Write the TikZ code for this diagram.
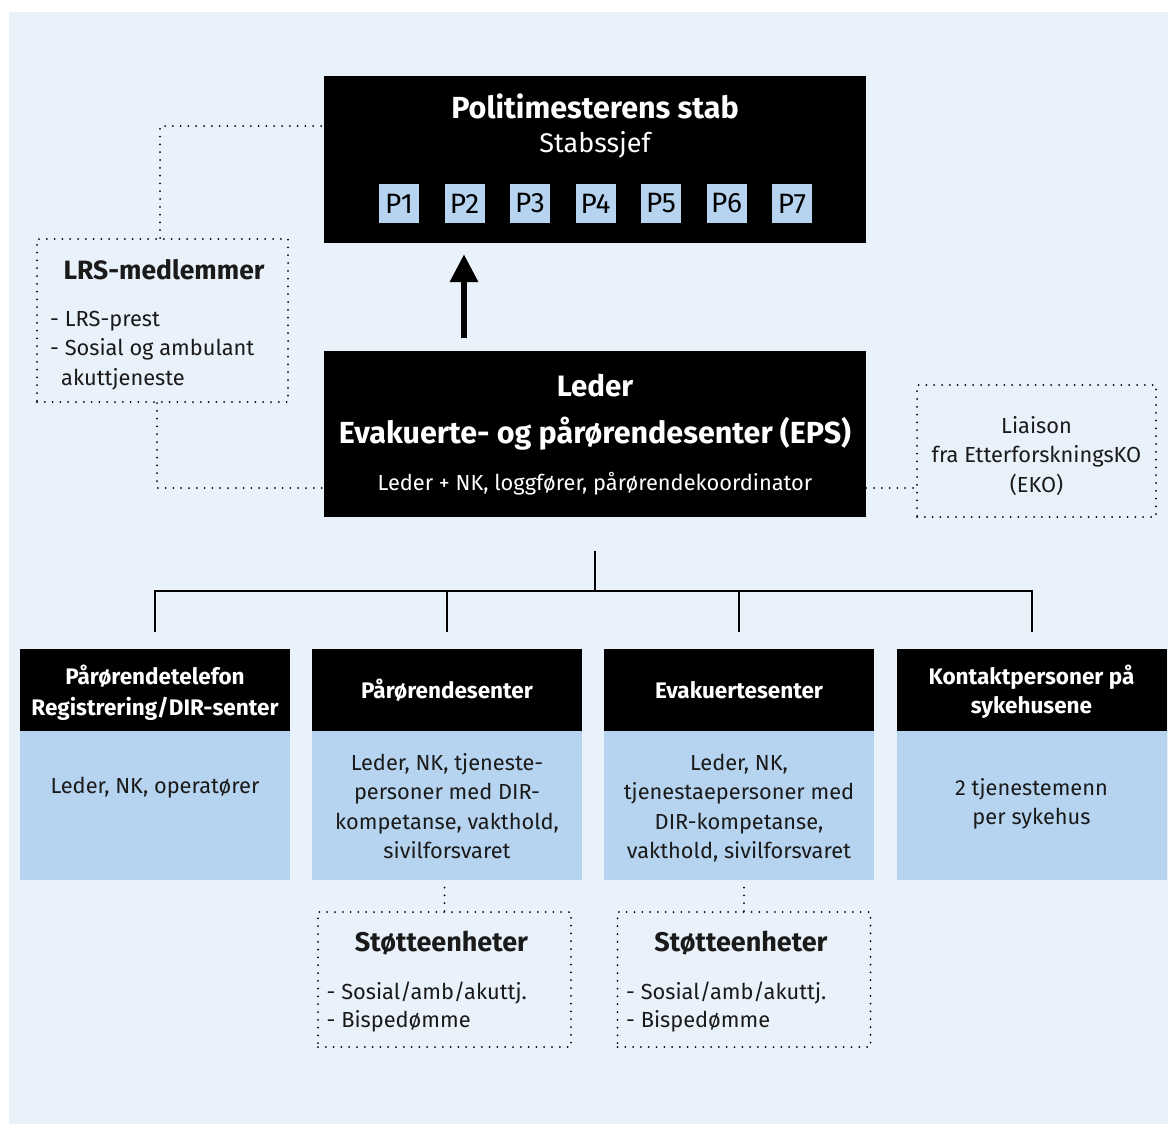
\documentclass[tikz,border=0pt]{standalone}
\usepackage{fontspec}
\setmainfont{Fira Sans}
\usetikzlibrary{arrows.meta}
\definecolor{bgblue}{HTML}{E9F1FA}
\definecolor{boxblue}{HTML}{B6D4F0}
\definecolor{ink}{HTML}{1A1A1A}
\newcommand\fsz[1]{\fontsize{#1}{#1}\selectfont}
\begin{document}
\begin{tikzpicture}[x=1pt,y=-1pt,>=latex,
 blackbox/.style={fill=black,inner sep=0pt},
 bluebox/.style={fill=boxblue,inner sep=0pt},
 dotbox/.style={draw,line width=2pt,dash pattern=on 0pt off 7.8pt,line cap=round,inner sep=0pt},
 dotline/.style={line width=2pt,dash pattern=on 0pt off 7.8pt,line cap=round},
 treeline/.style={line width=2pt},
 txt/.style={inner sep=0pt,anchor=base,text=ink,font=\fsz{21.8}},
 wtxt/.style={inner sep=0pt,anchor=base,text=white},
 ltxt/.style={inner sep=0pt,anchor=base west,text=ink,font=\fsz{21.8}}]
\useasboundingbox (0,0) rectangle (1168,1124);
\fill[bgblue] (9,12) rectangle (1168,1124);

% stab
\node[blackbox,minimum width=542pt,minimum height=167pt] (stab) at (595,159.5) {};
\node[wtxt,font=\bfseries\fsz{30.5}] (stabtitle) at (595,118) {Politimesterens stab};
\node[wtxt,font=\fsz{27}] (stabsjef) at (595,152.5) {Stabssjef};
\foreach \i in {1,...,7}
  \node[bluebox,text=black,minimum width=40pt,minimum height=39pt,font=\fsz{28}] (p\i) at (333.5+65.5*\i,203.5) {P\i};

% EPS
\node[blackbox,minimum width=542pt,minimum height=166pt] (leder) at (595,434) {};
\node[wtxt,font=\bfseries\fsz{29.5}] (ledertitle) at (595,396) {Leder};
\node[wtxt,font=\bfseries\fsz{30.5}] (eps) at (595,443) {Evakuerte- og pårørendesenter (EPS)};
\node[wtxt,font=\fsz{21.8}] (ledernk) at (595,490) {Leder + NK, loggfører, pårørendekoordinator};
\draw[-{Triangle[width=27pt,length=28pt]},line width=6.5pt] ([xshift=-131pt,yshift=13pt]leder.north) -- ([xshift=-131pt,yshift=-11pt]stab.south);

% LRS
\node[dotbox,minimum width=251pt,minimum height=163pt] (lrs) at (162.5,320.5) {};
\node[txt,font=\bfseries\fsz{26.5}] (lrstitle) at (164,279) {LRS-medlemmer};
\node[ltxt] (lrs1) at (50,326) {- LRS-prest};
\node[ltxt] (lrs2) at (50,355.5) {- Sosial og ambulant};
\node[ltxt] (lrs3) at (61,385) {akuttjeneste};
\draw[dotline] ([xshift=-2.5pt]lrs.north) |- ([yshift=33.5pt]stab.west);
\draw[dotline] ([xshift=-5.5pt]lrs.south) |- ([yshift=-54pt]leder.west);

% EKO
\node[dotbox,minimum width=239pt,minimum height=132pt] (eko) at (1036.5,451) {};
\foreach \t [count=\k] in {Liaison,fra EtterforskningsKO,(EKO)}
  \node[txt] (eko\k) at (1036.5,403.5+29.5*\k) {\t};
\coordinate (ekoin) at ([yshift=-54pt]leder.east);
\draw[dotline] (ekoin) -- (ekoin -| eko.west);

% enheter
\foreach \i/\x in {1/155,2/447,3/739,4/1031.5}{
  \node[blackbox,minimum width=270pt,minimum height=82pt] (hd\i) at (\x,690) {};
  \node[bluebox,minimum width=270pt,minimum height=149pt,anchor=north] (bd\i) at (hd\i.south) {};
}
\node[wtxt,font=\bfseries\fsz{22.5}] (hd1a) at (155,684.5) {Pårørendetelefon};
\node[wtxt,font=\bfseries\fsz{22.5}] (hd1b) at (155,715.5) {Registrering/DIR-senter};
\node[wtxt,font=\bfseries\fsz{22.5}] (hd2a) at (447,698) {Pårørendesenter};
\node[wtxt,font=\bfseries\fsz{22.5}] (hd3a) at (739,698) {Evakuertesenter};
\node[wtxt,font=\bfseries\fsz{22.5}] (hd4a) at (1031.5,684.5) {Kontaktpersoner på};
\node[wtxt,font=\bfseries\fsz{22.5}] (hd4b) at (1031.5,713.5) {sykehusene};

\node[txt] (bd1a) at (155,793) {Leder, NK, operatører};
\foreach \t [count=\k] in {{Leder, NK, tjeneste-},{personer med DIR-},{kompetanse, vakthold,},{sivilforsvaret}}
  \node[txt] (bd2\k) at (447,740.5+29.5*\k) {\t};
\foreach \t [count=\k] in {{Leder, NK,},{tjenestaepersoner med},{DIR-kompetanse,},{vakthold, sivilforsvaret}}
  \node[txt] (bd3\k) at (739,740.5+29.5*\k) {\t};
\node[txt] (bd4a) at (1031.5,795) {2 tjenestemenn};
\node[txt] (bd4b) at (1031.5,824.5) {per sykehus};

\coordinate (fork) at ([yshift=-34pt]leder.south);
\draw[treeline] (fork) -- ++(0,40);
\draw[treeline] ([yshift=17pt]hd1.north) |- ([yshift=-40pt]fork) -| ([yshift=17pt]hd4.north);
\foreach \i in {2,3}
  \draw[treeline] ([yshift=17pt]hd\i.north) -- ++(0,-41);

% stotteenheter
\foreach \i/\x in {1/444.5,2/744}{
  \node[dotbox,minimum width=253pt,minimum height=135pt] (st\i) at (\x,979.5) {};
  \node[txt,font=\bfseries\fsz{27}] (st\i t) at (\x-3,951) {Støtteenheter};
  \node[ltxt] (st\i a) at (\x-118,999) {- Sosial/amb/akuttj.};
  \node[ltxt] (st\i b) at (\x-118,1027) {- Bispedømme};
}
\draw[dotline] (st1.north) -- (st1.north |- bd2.south);
\draw[dotline] (st2.north) -- (st2.north |- bd3.south);
\end{tikzpicture}
\end{document}
